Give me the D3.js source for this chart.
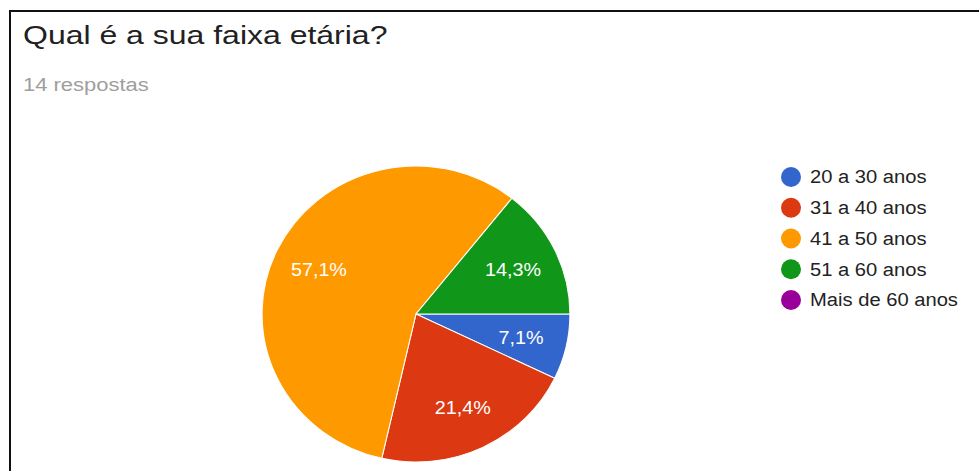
<!DOCTYPE html>
<html>
<head>
<meta charset="utf-8">
<script src="https://cdn.jsdelivr.net/npm/d3@7"></script>
<style>
  html, body { margin: 0; padding: 0; background: #fff; }
  svg { display: block; font-family: "Liberation Sans", Arial, sans-serif; }
</style>
</head>
<body>
<svg id="chart" width="979" height="471"></svg>
<script>
// data
const categories = ['20 a 30 anos', '31 a 40 anos', '41 a 50 anos', '51 a 60 anos', 'Mais de 60 anos'];
const counts = [1, 3, 8, 2, 0];
const colors = ['#3366cc', '#dc3912', '#ff9900', '#109618', '#990099'];
const title = 'Qual é a sua faixa etária?';
const subtitle = '14 respostas';

const width = 979, height = 471;
const svg = d3.select('#chart');

// the screenshot text is rendered wider than the font, so stretch it a bit
function stretch(sel, k) {
    sel.each(function () {
        const len = this.getComputedTextLength();
        d3.select(this)
            .attr('textLength', len * k)
            .attr('lengthAdjust', 'spacingAndGlyphs');
    });
}

// frame (top and left edges of the screenshot)
svg.append('path')
    .attr('d', 'M10,' + height + 'V11H' + width)
    .attr('fill', 'none')
    .attr('stroke', '#111')
    .attr('stroke-width', 2);

svg.append('text')
    .attr('x', 23)
    .attr('y', 44)
    .attr('font-size', 26)
    .attr('fill', '#212121')
    .text(title)
    .call(stretch, 1.23);

svg.append('text')
    .attr('x', 23)
    .attr('y', 91)
    .attr('font-size', 18)
    .attr('fill', '#9e9e9e')
    .text(subtitle)
    .call(stretch, 1.22);

// pie
const data = categories.map((c, i) => ({name: c, value: counts[i], color: colors[i]}));
const total = d3.sum(counts);
const radius = 148;

const pie = d3.pie()
    .sort(null)
    .value(d => d.value)
    .startAngle(Math.PI / 2)
    .endAngle(Math.PI / 2 + 2 * Math.PI);

const arc = d3.arc().innerRadius(0).outerRadius(radius);
const labelArc = d3.arc().innerRadius(radius * 0.7).outerRadius(radius * 0.7);

const g = svg.append('g')
    .attr('transform', 'translate(416,314) scale(1.04,1)');

const slices = pie(data).filter(d => d.data.value > 0);

g.selectAll('path.slice')
    .data(slices)
    .enter()
    .append('path')
    .attr('class', 'slice')
    .attr('d', arc)
    .attr('fill', d => d.data.color)
    .attr('stroke', '#fff')
    .attr('stroke-width', 1);

const fmt = v => (v / total * 100).toFixed(1).replace('.', ',') + '%';

g.selectAll('text.pct')
    .data(slices)
    .enter()
    .append('text')
    .attr('class', 'pct')
    .attr('transform', d => 'translate(' + labelArc.centroid(d) + ')')
    .attr('text-anchor', 'middle')
    .attr('dy', '0.36em')
    .attr('font-size', 19)
    .attr('fill', '#fff')
    .text(d => fmt(d.data.value));

// legend
const legend = svg.append('g')
    .attr('transform', 'translate(791,177)');

const rows = legend.selectAll('g.row')
    .data(data)
    .enter()
    .append('g')
    .attr('class', 'row')
    .attr('transform', (d, i) => 'translate(0,' + i * 30.75 + ')');

rows.append('circle')
    .attr('r', 10)
    .attr('fill', d => d.color);

rows.append('text')
    .attr('x', 19)
    .attr('dy', '0.36em')
    .attr('font-size', 18)
    .attr('fill', '#222')
    .text(d => d.name)
    .call(stretch, 1.12);
</script>
</body>
</html>
